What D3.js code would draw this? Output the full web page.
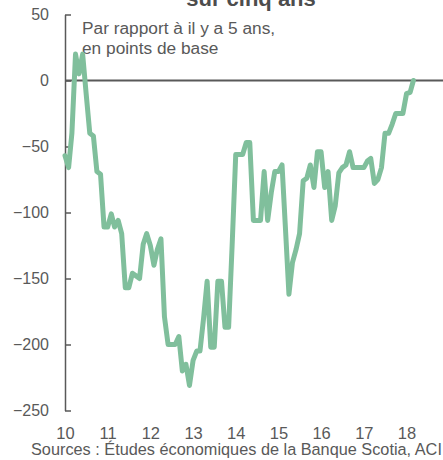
<!DOCTYPE html>
<html>
<head>
<meta charset="utf-8">
<script src="https://cdn.jsdelivr.net/npm/d3@7"></script>
<style>
  body { margin: 0; background: #fff; }
  svg { display: block; font-family: "Liberation Sans", Arial, sans-serif; }
</style>
</head>
<body>
<svg id="vimage" width="443" height="460"></svg>
<script>
//---------------------------------------- data ---------------------------------------
var startMonth = "2010-01";
var spreadValues = [
  -57, -66, -40, 20, 5, 20, -10, -40, -42, -69,
  -71, -111, -111, -101, -111, -106, -116, -157, -157, -146,
  -148, -150, -124, -116, -125, -140, -128, -120, -179, -200,
  -200, -200, -194, -220, -215, -231, -212, -205, -205, -180,
  -152, -202, -202, -152, -152, -187, -187, -125, -56, -56,
  -56, -47, -47, -106, -106, -106, -69, -106, -85, -69,
  -69, -64, -110, -162, -138, -128, -116, -76, -74, -64,
  -81, -54, -54, -81, -69, -106, -95, -70, -66, -64,
  -54, -66, -66, -66, -66, -61, -59, -78, -75, -66,
  -40, -40, -33, -25, -25, -25, -10, -9, 0
];
var yTicks = [50, 0, -50, -100, -150, -200, -250];
var yearTicks = ["2010", "2011", "2012", "2013", "2014", "2015", "2016", "2017", "2018"];

var titleText = "sur cinq ans";
var noteLines = ["Par rapport à il y a 5 ans,", "en points de base"];
var sourceText = "Sources : Études économiques de la Banque Scotia, ACI";

var parseMonth = d3.timeParse("%Y-%m");
var parseYear = d3.timeParse("%Y");
var start = parseMonth(startMonth);
var series = spreadValues.map(function(v, i) {
    return {date: d3.timeMonth.offset(start, i), value: v};
});

//---------------------------------------- scales ---------------------------------------
var svg = d3.select("#vimage");
var grey = "#595959";

var x = d3.scaleTime()
    .domain([parseYear("2010"), parseYear("2018")])
    .range([65, 406.5]);

var y = d3.scaleLinear()
    .domain([-250, 50])
    .range([410.5, 14.5]);

//---------------------------------------- title and note ---------------------------------------
// title is cut by the top edge, as in the source image
svg.append("text")
    .attr("x", 251)
    .attr("y", 6)
    .attr("text-anchor", "middle")
    .style("font-size", "22px")
    .style("font-weight", "bold")
    .style("fill", "#4d4d4d")
    .text(titleText);

svg.selectAll(".note")
    .data(noteLines)
    .enter().append("text")
    .attr("class", "note")
    .attr("x", 82)
    .attr("y", function(d, i) { return 33.5 + i * 20; })
    .style("font-size", "17.3px")
    .style("fill", grey)
    .text(function(d) { return d; });

//---------------------------------------- axes ---------------------------------------
var yAxis = svg.append("g")
    .attr("transform", "translate(65,0)")
    .call(d3.axisLeft(y)
        .tickValues(yTicks)
        .tickSizeInner(-6)
        .tickSizeOuter(0)
        .tickPadding(16));

yAxis.select(".domain").attr("stroke", grey).attr("stroke-width", 1.5);
yAxis.selectAll(".tick line").attr("stroke", grey).attr("stroke-width", 1.5);
yAxis.selectAll(".tick text")
    .style("font-size", "16px")
    .style("font-family", "Liberation Sans, Arial, sans-serif")
    .attr("fill", grey);

var xAxis = svg.append("g")
    .attr("transform", "translate(0,411)")
    .call(d3.axisBottom(x)
        .tickValues(yearTicks.map(parseYear))
        .tickFormat(d3.timeFormat("%y"))
        .tickSize(0)
        .tickPadding(16));

xAxis.select(".domain").remove();
xAxis.selectAll(".tick text")
    .style("font-size", "16.5px")
    .style("font-family", "Liberation Sans, Arial, sans-serif")
    .attr("fill", grey);

// zero line
svg.append("line")
    .attr("x1", 65)
    .attr("x2", 443)
    .attr("y1", y(0))
    .attr("y2", y(0))
    .attr("stroke", grey)
    .attr("stroke-width", 1.8);

//---------------------------------------- line ---------------------------------------
var line = d3.line()
    .x(function(d) { return x(d.date); })
    .y(function(d) { return y(d.value); });

svg.append("path")
    .datum(series)
    .attr("d", line)
    .attr("fill", "none")
    .attr("stroke", "#80bf9c")
    .attr("stroke-width", 5)
    .attr("stroke-linejoin", "round")
    .attr("stroke-linecap", "round");

//---------------------------------------- source ---------------------------------------
svg.append("text")
    .attr("x", 31)
    .attr("y", 455)
    .style("font-size", "16.3px")
    .style("fill", grey)
    .text(sourceText);
</script>
</body>
</html>
